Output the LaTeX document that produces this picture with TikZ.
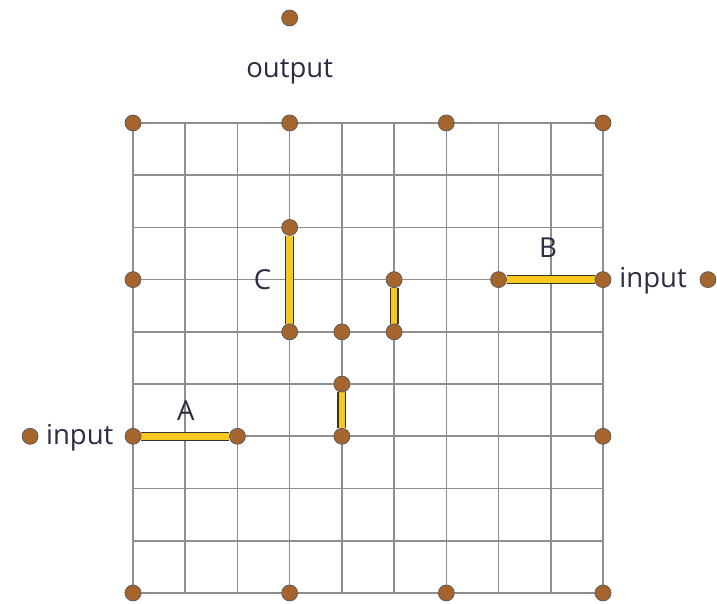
\documentclass[tikz,border=0pt]{standalone}
\usepackage{fontspec}
\setmainfont{Open Sans}
\usetikzlibrary{backgrounds}
\definecolor{pinbrown}{HTML}{A5652C}
\definecolor{wireyellow}{HTML}{F7C81E}
\definecolor{gridgray}{HTML}{8E8E8E}
\definecolor{inkblue}{HTML}{2B2D42}
\tikzset{
  pin/.style={circle, fill=pinbrown, draw=black!65, line width=0.4pt,
              minimum size=8.7pt, inner sep=0pt},
  wire/.style={draw=black!80, line width=0.7pt, double=wireyellow,
               double distance=3.6pt},
  gridline/.style={gridgray, line width=0.9pt},
  lbl/.style={font=\fontsize{15}{17}\selectfont, text=inkblue, inner sep=0pt}
}

\begin{document}
\begin{tikzpicture}
  \useasboundingbox (-2.547,-0.211) rectangle (11.183,11.355);

  % grid pins
  \foreach \x in {0,3,6,9} {
    \node[pin] (p-\x-0) at (\x,0) {};
    \node[pin] (p-\x-9) at (\x,9) {};
  }
  \foreach \y in {3,6} {
    \node[pin] (p-0-\y) at (0,\y) {};
    \node[pin] (p-9-\y) at (9,\y) {};
  }
  \node[pin] (p-2-3) at (2,3) {};
  \node[pin] (p-7-6) at (7,6) {};
  \node[pin] (p-3-7) at (3,7) {};
  \node[pin] (p-3-5) at (3,5) {};
  \node[pin] (p-4-5) at (4,5) {};
  \node[pin] (p-5-6) at (5,6) {};
  \node[pin] (p-5-5) at (5,5) {};
  \node[pin] (p-4-4) at (4,4) {};
  \node[pin] (p-4-3) at (4,3) {};

  % outside pins and texts
  \node[pin] (out) at (3,11.01) {};
  \node[lbl] (outtxt) at (3,9.98) {output};
  \node[pin] (inA) at (-1.97,3) {};
  \node[lbl] (inAtxt) at (-1.02,2.97) {input};
  \node[pin] (inB) at (11.01,6) {};
  \node[lbl] (inBtxt) at (9.96,5.97) {input};

  \node[lbl] (labA) at (1.01,3.5) {A};
  \node[lbl] (labB) at (7.95,6.62) {B};
  \node[lbl] (labC) at (2.48,6.0) {C};

  \begin{scope}[on background layer]
    \draw[gridline] (0,0) grid (9,9);
    \draw[wire] (p-0-3) -- (p-2-3);
    \draw[wire] (p-7-6) -- (p-9-6);
    \draw[wire] (p-3-7) -- (p-3-5);
    \draw[wire] (p-5-6) -- (p-5-5);
    \draw[wire] (p-4-4) -- (p-4-3);
  \end{scope}
\end{tikzpicture}
\end{document}
